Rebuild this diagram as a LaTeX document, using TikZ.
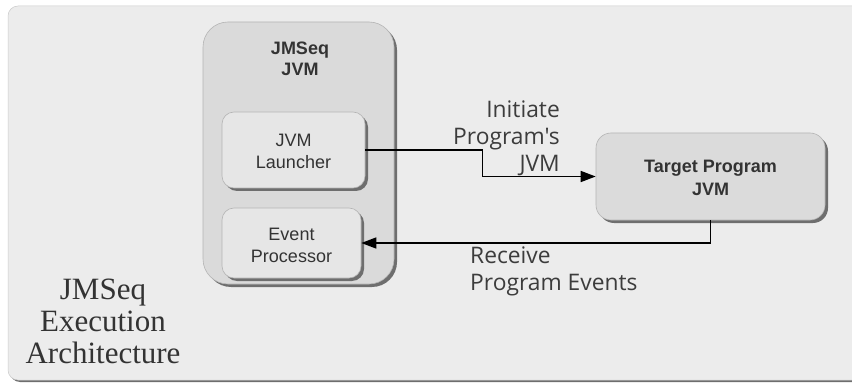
\documentclass[tikz,border=0pt]{standalone}
\usepackage{fontspec}
\setmainfont{Liberation Serif}
\setsansfont{Liberation Sans}
\newfontfamily\labelfont{Open Sans}
\usetikzlibrary{arrows.meta,shadows}
\definecolor{bgc}{HTML}{ECECEC}
\definecolor{outerc}{HTML}{DADADA}
\definecolor{innerc}{HTML}{E6E6E6}
\definecolor{targc}{HTML}{DBDBDB}
\definecolor{edgec}{HTML}{B4B4B4}
\definecolor{txtc}{HTML}{333333}
\definecolor{lblc}{HTML}{3C3C3C}
\definecolor{shadc}{HTML}{6E6E6E}
\tikzset{
  boxshadow/.style={drop shadow={shadow xshift=3pt,shadow yshift=-3pt,fill=shadc,opacity=1}},
  jvmbox/.style={rectangle,draw=edgec,line width=0.6pt,fill=outerc,boxshadow,rounded corners=25pt,inner sep=0pt},
  innerbox/.style={rectangle,draw=edgec,line width=0.6pt,fill=innerc,boxshadow,rounded corners=12pt,inner sep=0pt},
  targbox/.style={rectangle,draw=edgec,line width=0.6pt,fill=targc,boxshadow,rounded corners=15pt,inner sep=0pt},
  boxtext/.style={font=\sffamily\fontsize{18}{22}\selectfont,text=txtc,align=center},
  boldtext/.style={font=\sffamily\bfseries\fontsize{18}{21}\selectfont,text=txtc,align=center},
  flowlabel/.style={font=\labelfont\fontsize{22.8}{27}\selectfont,text=lblc,inner sep=0pt},
  conn/.style={line width=1.5pt,-{Triangle[length=15pt,width=11pt]}}
}
\begin{document}
\begin{tikzpicture}[x=1pt,y=-1pt]
\useasboundingbox (0,0) rectangle (852,385);
% background panel
\fill[shadc] (10,8) [rounded corners=10pt] rectangle (880,382);
\fill[bgc,draw=edgec!70,line width=0.5pt] (8,6) [rounded corners=10pt] rectangle (880,380);
% boxes
\node[jvmbox,minimum width=191pt,minimum height=262pt] (jvm) at (298.5,153) {};
\node[boldtext] (jvmtitle) at (300,59) {JMSeq\\JVM};
\node[innerbox,minimum width=143pt,minimum height=76pt] (launcher) at (293.5,150) {};
\node[boxtext] (launchertext) at (293.5,151) {JVM\\Launcher};
\node[innerbox,minimum width=139pt,minimum height=70pt] (event) at (291.5,243) {};
\node[boxtext] (eventtext) at (291.5,245) {Event\\Processor};
\node[targbox,minimum width=229pt,minimum height=87pt] (target) at (710.5,176.5) {};
\node[boldtext,font=\sffamily\bfseries\fontsize{18}{23}\selectfont] (targettext) at (710.5,178) {Target Program\\JVM};
% connectors
\draw[conn] (launcher.east) -- ++(117,0) |- (target.west);
\draw[conn] (target.south) |- (event.east);
% labels
\node[flowlabel,align=right,anchor=east] (initlabel) at (560,138) {Initiate\\Program's\\JVM};
\node[flowlabel,align=left,anchor=west] (recvlabel) at (470,271) {Receive\\Program Events};
\node[font=\rmfamily\fontsize{31}{32}\selectfont,text=txtc,align=center] (archlabel) at (103,321) {JMSeq\\Execution\\Architecture};
\end{tikzpicture}
\end{document}
